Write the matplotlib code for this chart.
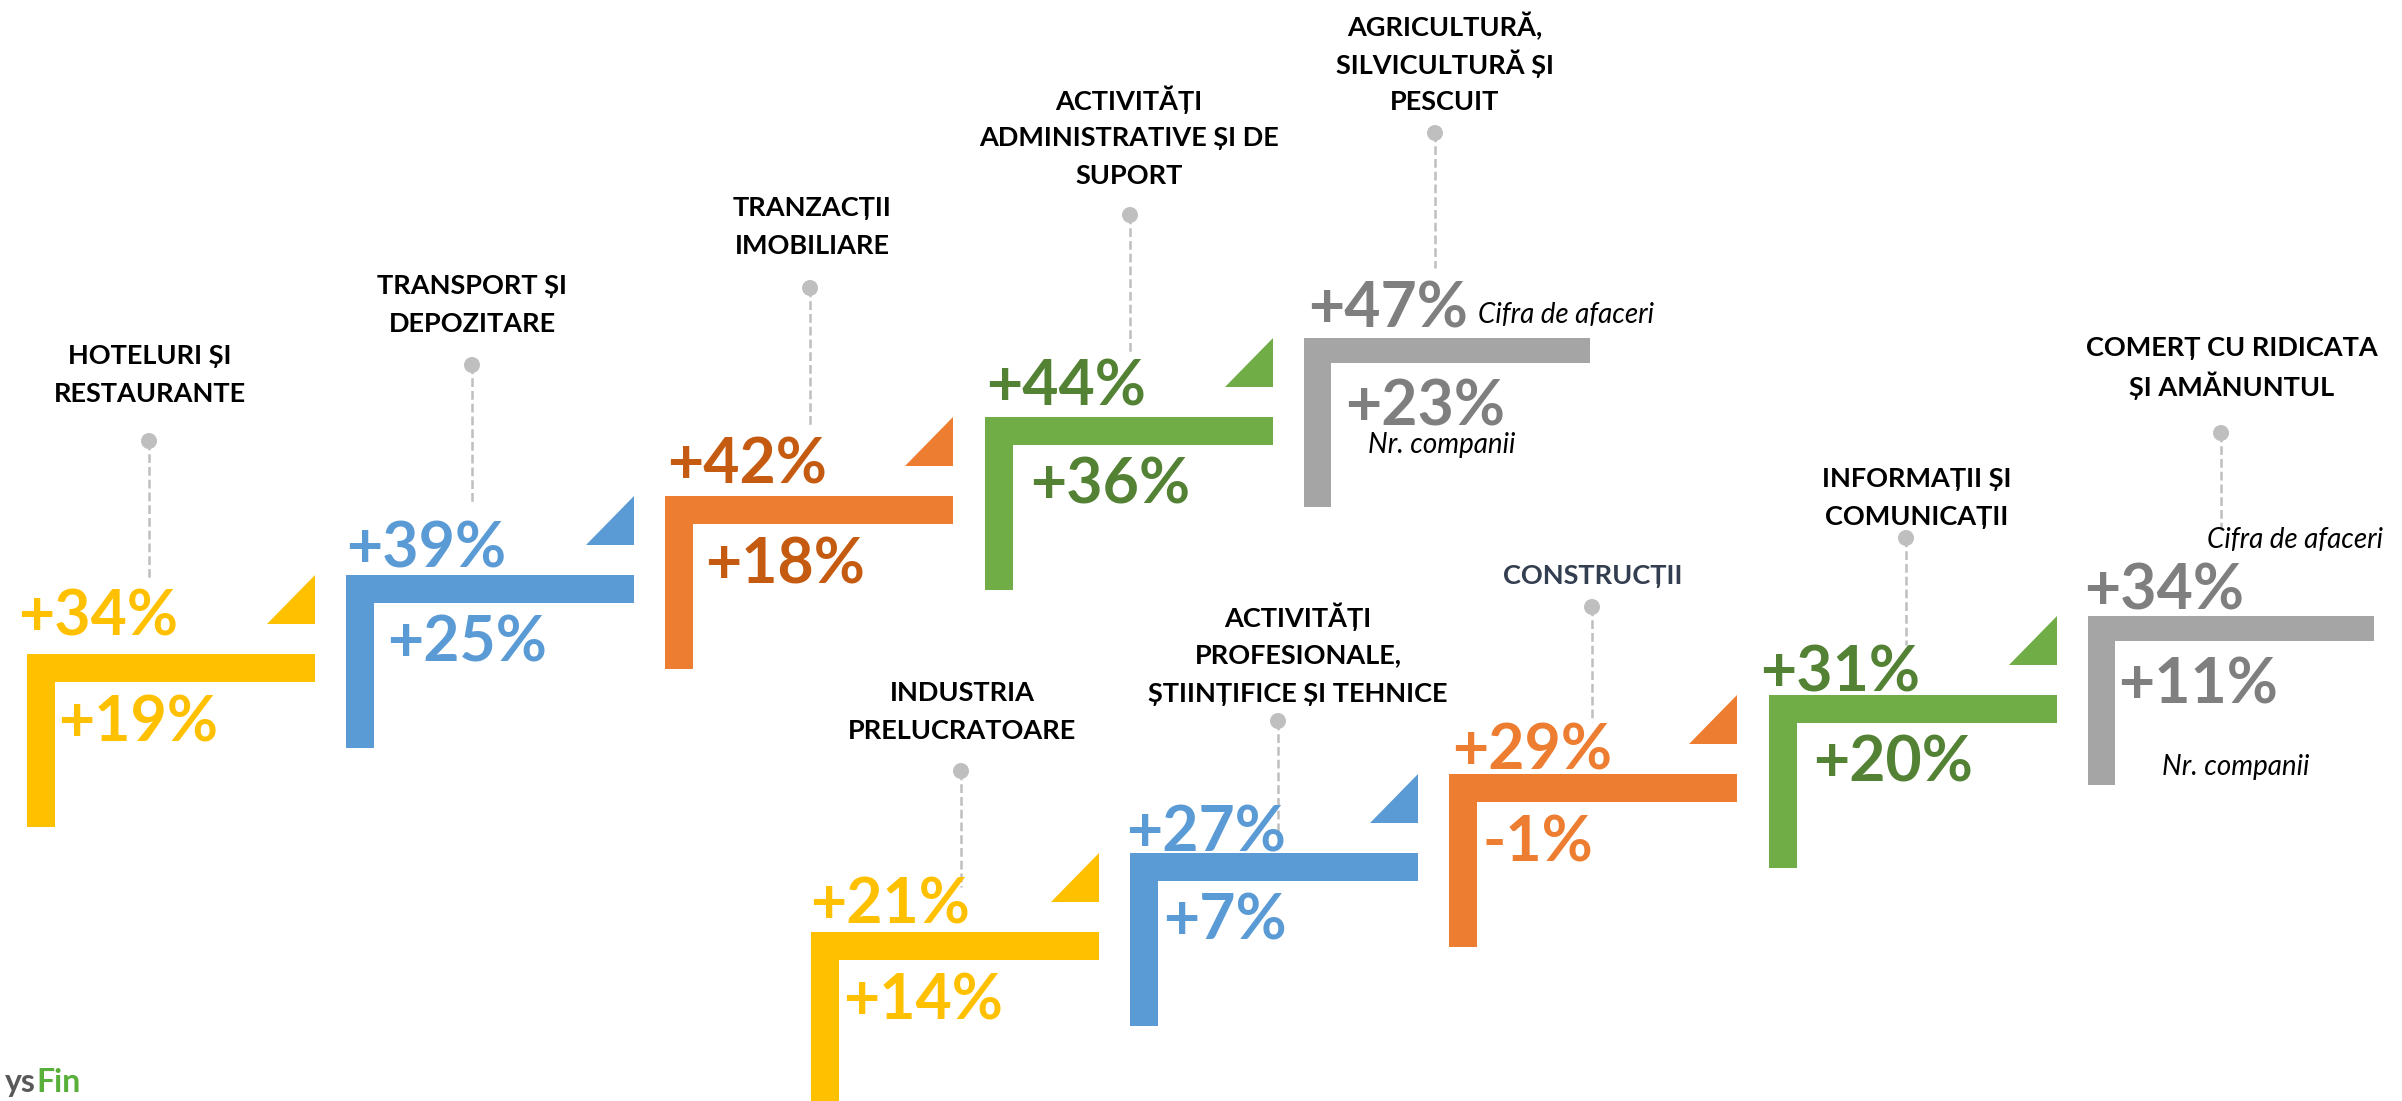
"""
Staircase infographic: growth of turnover (top figure) and number of companies
(bottom figure) per economic sector.
"""

import matplotlib
matplotlib.use("Agg")
import matplotlib.pyplot as plt
from matplotlib.patches import Polygon, Circle

# ---- DATA ----
sectors = [
    "HOTELURI ȘI\nRESTAURANTE",
    "TRANSPORT ȘI\nDEPOZITARE",
    "TRANZACȚII\nIMOBILIARE",
    "ACTIVITĂȚI\nADMINISTRATIVE ȘI DE\nSUPORT",
    "AGRICULTURĂ,\nSILVICULTURĂ ȘI\nPESCUIT",
    "INDUSTRIA\nPRELUCRATOARE",
    "ACTIVITĂȚI\nPROFESIONALE,\nȘTIINȚIFICE ȘI TEHNICE",
    "CONSTRUCȚII",
    "INFORMAȚII ȘI\nCOMUNICAȚII",
    "COMERȚ CU RIDICATA\nȘI AMĂNUNTUL",
]
turnover_growth = [34, 39, 42, 44, 47, 21, 27, 29, 31, 34]   # % change, turnover
companies_growth = [19, 25, 18, 36, 23, 14, 7, -1, 20, 11]   # % change, nr. of companies
legend_labels = ["Cifra de afaceri", "Nr. companii"]

# ---- LAYOUT / STYLE ----
W, H = 2402, 1101
bar_colors = ["#FFC000", "#5B9BD5", "#ED7D31", "#70AD47", "#A5A5A5"] * 2
top_colors = ["#FFC000", "#5B9BD5", "#C55A11", "#548235", "#7F7F7F",
              "#FFC000", "#5B9BD5", "#ED7D31", "#548235", "#7F7F7F"]
bot_colors = top_colors
label_colors = ["black"] * 7 + ["#333F50"] + ["black"] * 2

row_origins = [(27, 654), (811, 932)]
step_dx, step_dy = 319.2, 79
pin_x = [149, 472, 810, 1130, 1435, 961, 1278, 1592, 1906, 2221]
pin_dot_y = [441, 365, 288, 215, 133, 771, 721, 607, 538, 433]
dash_end_y = [578, 502, 426, 352, 268, 887, 835, 722, 645, 530]
label_x = [150, 472, 812, 1129, 1445, 962, 1298, 1593, 1917, 2232]
label_cy = [375, 305, 227, 138, 64, 712, 655, 576, 498, 367]
top_text_dx = [-9, 0, 2, 2, 4, -1, -4, 3, -8, -4]
top_text_gap = [19, 7, 13, 11, 10, 8, 2, 4, 4, 7]
bot_text_dx = [31, 41, 40, 46, 41, 32, 33, 33, 45, 30]
legend_pos = [[(1478, 323), (1368, 453)], [(2207, 548), (2162, 775)]]

FONT = ["Lato", "Noto Sans", "DejaVu Sans"]


def step_origin(i):
    """Top-left corner of the horizontal part of step i."""
    ox, oy = row_origins[i // 5]
    k = i % 5
    return ox + k * step_dx, oy - k * step_dy


def draw_step(ax, i):
    """Draw one L-shaped step, its triangle, pin, label and values."""
    x0, y0 = step_origin(i)
    gray = (i % 5 == 4)
    length, thick, vthick, height = (286, 25, 27, 169) if gray else (288, 28, 28, 173)
    # L shape
    pts = [(x0, y0), (x0 + length, y0), (x0 + length, y0 + thick),
           (x0 + vthick, y0 + thick), (x0 + vthick, y0 + height), (x0, y0 + height)]
    ax.add_patch(Polygon(pts, closed=True, color=bar_colors[i], lw=0))
    # small triangle above the right end
    if not gray:
        xr, yb = x0 + length, y0 - 30
        ax.add_patch(Polygon([(xr - 48, yb), (xr, yb), (xr, yb - 49)],
                             closed=True, color=bar_colors[i], lw=0))
    # pin with dashed stem
    ax.plot([pin_x[i], pin_x[i]], [pin_dot_y[i], dash_end_y[i]], color="#BFBFBF",
            lw=1.8, dashes=(3.5, 1.6), zorder=1)
    ax.add_patch(Circle((pin_x[i], pin_dot_y[i]), 8, color="#BFBFBF", lw=0, zorder=2))
    # sector label, one line at a time
    lines = sectors[i].split("\n")
    for k, line in enumerate(lines):
        y = label_cy[i] + (k - (len(lines) - 1) / 2) * 38.5
        ax.text(label_x[i], y, line, ha="center", va="center", fontsize=19.5,
                fontweight="bold", color=label_colors[i], family=FONT)
    # values
    ax.text(x0 + top_text_dx[i], y0 - top_text_gap[i], f"{turnover_growth[i]:+d}%",
            ha="left", va="baseline", fontsize=45, fontweight="bold",
            color=top_colors[i], family=FONT)
    ax.text(x0 + bot_text_dx[i], y0 + 87, f"{companies_growth[i]:+d}%",
            ha="left", va="baseline", fontsize=45, fontweight="bold",
            color=bot_colors[i], family=FONT)


def main():
    """Build the figure and save it."""
    fig = plt.figure(figsize=(W / 100, H / 100), dpi=100)
    ax = fig.add_axes([0, 0, 1, 1])
    ax.set_xlim(0, W)
    ax.set_ylim(H, 0)
    ax.axis("off")

    for i in range(len(sectors)):
        draw_step(ax, i)

    # italic legend words next to the two gray steps
    for (cx, cy), (nx, ny) in legend_pos:
        ax.text(cx, cy, legend_labels[0], ha="left", va="baseline", fontsize=20,
                style="italic", color="black", family=FONT)
        ax.text(nx, ny, legend_labels[1], ha="left", va="baseline", fontsize=20,
                style="italic", color="black", family=FONT)

    # logo in the bottom-left corner
    ax.text(36, 1092, "ys", ha="right", va="baseline", fontsize=23,
            fontweight="bold", color="#595959", family=FONT)
    ax.text(36, 1092, "Fin", ha="left", va="baseline", fontsize=23,
            fontweight="bold", color="#5AAE3A", family=FONT)

    fig.savefig("out.png", dpi=100, facecolor="white")


if __name__ == "__main__":
    main()
